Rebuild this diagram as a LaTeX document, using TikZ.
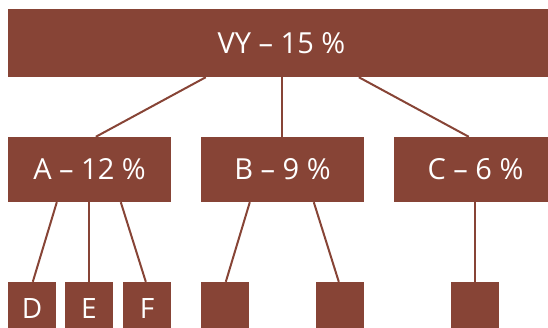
\documentclass[tikz,border=0pt]{standalone}
\usepackage{fontspec}
\setmainfont{Open Sans}
\definecolor{brick}{RGB}{135,68,54}
\tikzset{
  box/.style={fill=brick, draw=none, inner sep=0pt, text=white, font=\fontsize{29}{32}\selectfont},
  big/.style={box, minimum width=547pt, minimum height=68pt},
  mid/.style={box, minimum width=163pt, minimum height=65pt},
  leaf/.style={box, minimum width=48pt, minimum height=52pt, font=\fontsize{28}{30}\selectfont},
  link/.style={draw=brick, line width=2pt}
}
\begin{document}
\begin{tikzpicture}[x=1pt,y=-1pt]
\useasboundingbox (0,0) rectangle (548,327);
\clip (0,0) rectangle (548,327);
\node[big] (vy) at (281.5,43) {VY – 15 \%};
\node[mid] (a) at (89.5,169.5) {A – 12 \%};
\node[mid] (b) at (282.5,169.5) {B – 9 \%};
\node[mid] (c) at (475.5,169.5) {C – 6 \%};
\node[leaf] (d) at (32,308) {D};
\node[leaf] (e) at (89,308) {E};
\node[leaf] (f) at (147,308) {F};
\node[leaf] (g) at (225,308) {};
\node[leaf] (h) at (340,308) {};
\node[leaf] (k) at (475,308) {};
\draw[link] ([xshift=198pt]vy.south west) -- ([xshift=88pt]a.north west);
\draw[link] ([xshift=274pt]vy.south west) -- ([xshift=81pt]b.north west);
\draw[link] ([xshift=351pt]vy.south west) -- ([xshift=75pt]c.north west);
\draw[link] ([xshift=49pt]a.south west) -- ([xshift=25pt]d.north west);
\draw[link] ([xshift=81pt]a.south west) -- ([xshift=24pt]e.north west);
\draw[link] ([xshift=113pt]a.south west) -- ([xshift=23pt]f.north west);
\draw[link] ([xshift=49pt]b.south west) -- ([xshift=25pt]g.north west);
\draw[link] ([xshift=113pt]b.south west) -- ([xshift=23pt]h.north west);
\draw[link] ([xshift=81pt]c.south west) -- ([xshift=24pt]k.north west);
\end{tikzpicture}
\end{document}
